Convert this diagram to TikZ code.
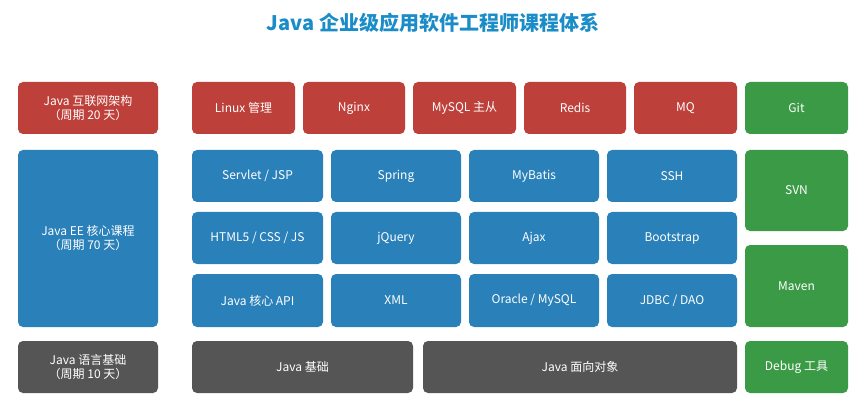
\documentclass[tikz,border=0pt]{standalone}
\usepackage{fontspec}
\setmainfont{Noto Sans CJK SC}
\definecolor{cr}{HTML}{BE403A}
\definecolor{cb}{HTML}{2A80B9}
\definecolor{cg}{HTML}{3B9A45}
\definecolor{ck}{HTML}{555555}
\definecolor{ct}{HTML}{1A8CC8}
\tikzset{box/.style={rounded corners=5pt,text=white,font=\fontsize{12}{14}\selectfont,align=center,inner sep=0pt}}
\newcommand{\bx}[7]{\path[box,fill=#6] (#2,#3) rectangle (#4,#5);
\node[box,text=white] (#1) at ({(#2+#4)/2},{(#3+#5)/2}) {#7};}
\begin{document}
\begin{tikzpicture}[x=1pt,y=-1pt]
\useasboundingbox[fill=white] (0,0) rectangle (867,414);
\node[font=\fontsize{20}{24}\selectfont\bfseries,text=ct] (title) at (433,23) {Java 企业级应用软件工程师课程体系};
\bx{l1}{18}{82}{158}{134}{cr}{Java 互联网架构\\（周期 20 天）}
\bx{l2}{18}{150}{158}{327}{cb}{Java EE 核心课程\\（周期 70 天）}
\bx{l3}{18}{341}{158}{393}{ck}{Java 语言基础\\（周期 10 天）}
\bx{r1}{192}{82}{295}{134}{cr}{Linux 管理}
\bx{r2}{303}{82}{405}{134}{cr}{Nginx}
\bx{r3}{413}{82}{516}{134}{cr}{MySQL 主从}
\bx{r4}{524}{82}{626}{134}{cr}{Redis}
\bx{r5}{634}{82}{737}{134}{cr}{MQ}
\bx{g1}{745}{82}{848}{134}{cg}{Git}
\bx{g2}{745}{150}{848}{231}{cg}{SVN}
\bx{g3}{745}{245}{848}{327}{cg}{Maven}
\bx{g4}{745}{341}{848}{393}{cg}{Debug 工具}
\bx{b11}{192}{150}{323}{202}{cb}{Servlet / JSP}
\bx{b12}{331}{150}{461}{202}{cb}{Spring}
\bx{b13}{469}{150}{599}{202}{cb}{MyBatis}
\bx{b14}{607}{150}{737}{202}{cb}{SSH}
\bx{b21}{192}{212}{323}{264}{cb}{HTML5 / CSS / JS}
\bx{b22}{331}{212}{461}{264}{cb}{jQuery}
\bx{b23}{469}{212}{599}{264}{cb}{Ajax}
\bx{b24}{607}{212}{737}{264}{cb}{Bootstrap}
\bx{b31}{192}{274}{323}{327}{cb}{Java 核心 API}
\bx{b32}{331}{274}{461}{327}{cb}{XML}
\bx{b33}{469}{274}{599}{327}{cb}{Oracle / MySQL}
\bx{b34}{607}{274}{737}{327}{cb}{JDBC / DAO}
\bx{k1}{192}{341}{413}{393}{ck}{Java 基础}
\bx{k2}{423}{341}{737}{393}{ck}{Java 面向对象}
\end{tikzpicture}
\end{document}
